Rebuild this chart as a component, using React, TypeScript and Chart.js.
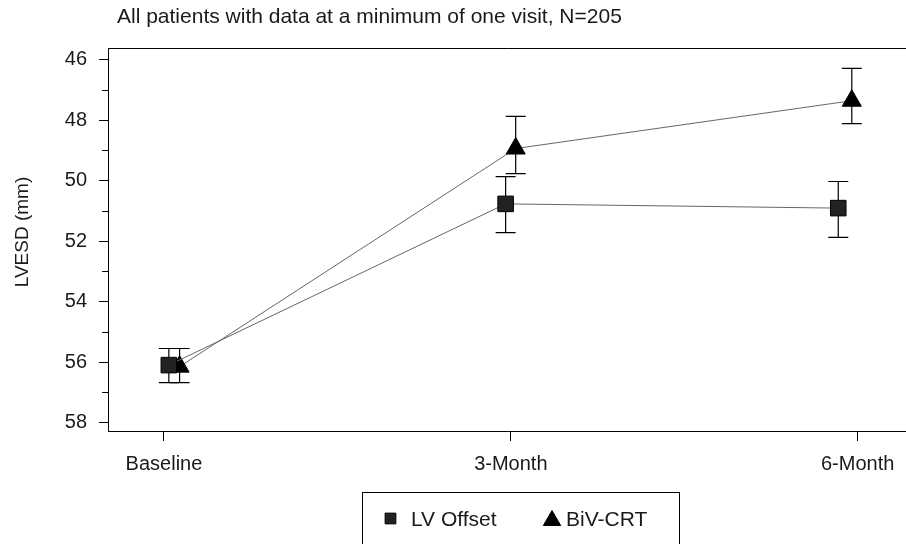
import { useEffect, useRef } from 'react';
import { Chart, registerables } from 'chart.js';
import { drawPoint } from 'chart.js/helpers';

Chart.register(...registerables);

// ---- data ----
const visits = ['Baseline', '3-Month', '6-Month'];
const visitTicks = [0, 1, 2];
const yMajorTicks = [46, 48, 50, 52, 54, 56, 58];
const yMinorTicks = [47, 49, 51, 53, 55, 57];

// small horizontal dodge of each point from its visit (visit index units), as in the source figure
const lvOffsetDodge = [0.014, -0.015, -0.056];
const lvOffsetMean = [56.1, 50.77, 50.91];
const lvOffsetLow = [55.55, 49.87, 50.03];
const lvOffsetHigh = [56.68, 51.72, 51.88];

const bivCrtDodge = [0.045, 0.014, -0.017];
const bivCrtMean = [56.15, 48.94, 47.36];
const bivCrtLow = [55.55, 47.88, 46.29];
const bivCrtHigh = [56.68, 49.77, 48.12];

const titleText = 'All patients with data at a minimum of one visit, N=205';
const yAxisTitle = 'LVESD (mm)';

const FONT = '"Liberation Sans", Arial, Helvetica, sans-serif';
const TEXT = '#1a1a1a';

const decor = {
  id: 'decor',
  beforeDatasetsDraw(chart: any) {
    const ctx = chart.ctx;
    const xs = chart.scales.x;
    const ys = chart.scales.y;
    ctx.save();
    ctx.strokeStyle = '#000';
    ctx.lineWidth = 1.2;
    chart.data.datasets.forEach((ds: any) => {
      ds.data.forEach((p: any, j: number) => {
        const x = xs.getPixelForValue(p.x);
        const y1 = ys.getPixelForValue(ds.errLow[j]);
        const y2 = ys.getPixelForValue(ds.errHigh[j]);
        ctx.beginPath();
        ctx.moveTo(x, y1);
        ctx.lineTo(x, y2);
        ctx.moveTo(x - 10, y1);
        ctx.lineTo(x + 10, y1);
        ctx.moveTo(x - 10, y2);
        ctx.lineTo(x + 10, y2);
        ctx.stroke();
      });
    });
    ctx.restore();
  },
  afterDraw(chart: any) {
    const ctx = chart.ctx;
    const area = chart.chartArea;
    const ys = chart.scales.y;
    ctx.save();
    // top frame line
    ctx.strokeStyle = '#000';
    ctx.lineWidth = 1;
    ctx.beginPath();
    ctx.moveTo(Math.round(area.left) + 0.5, Math.round(area.top) + 0.5);
    ctx.lineTo(area.right, Math.round(area.top) + 0.5);
    ctx.stroke();
    // minor y ticks
    ctx.beginPath();
    yMinorTicks.forEach((v) => {
      const y = Math.round(ys.getPixelForValue(v)) + 0.5;
      ctx.moveTo(area.left - 6, y);
      ctx.lineTo(area.left, y);
    });
    ctx.stroke();
    // title
    ctx.fillStyle = TEXT;
    ctx.font = `21px ${FONT}`;
    ctx.textAlign = 'left';
    ctx.textBaseline = 'alphabetic';
    ctx.fillText(titleText, 117, 23);
    // y axis title
    ctx.save();
    ctx.translate(23, 232);
    ctx.rotate(-Math.PI / 2);
    ctx.textAlign = 'center';
    ctx.textBaseline = 'middle';
    ctx.font = `19px ${FONT}`;
    ctx.fillText(yAxisTitle, 0, 0);
    ctx.restore();
    // legend box
    ctx.strokeStyle = '#000';
    ctx.lineWidth = 1;
    ctx.strokeRect(362.5, 492.5, 317, 120);
    const itemX = [390.5, 552];
    const itemY = [518.5, 520.5];
    const textX = [411, 566];
    const legendRadius = [7.6, 10];
    chart.data.datasets.forEach((ds: any, i: number) => {
      ctx.fillStyle = ds.pointBackgroundColor;
      ctx.strokeStyle = '#000';
      ctx.lineWidth = 1;
      drawPoint(
        ctx,
        {
          pointStyle: ds.pointStyle,
          radius: legendRadius[i],
          rotation: 0,
          borderWidth: 1,
        } as any,
        itemX[i],
        itemY[i]
      );
      ctx.fillStyle = TEXT;
      ctx.font = `21px ${FONT}`;
      ctx.textAlign = 'left';
      ctx.textBaseline = 'middle';
      ctx.fillText(ds.label, textX[i], 520);
    });
    ctx.restore();
  },
};

export default function App() {
  const ref = useRef<HTMLCanvasElement | null>(null);

  useEffect(() => {
    if (!ref.current) return;
    const mk = (dodge: number[], mean: number[]) =>
      visitTicks.map((v, i) => ({ x: v + dodge[i], y: mean[i] }));

    const chart = new Chart(ref.current, {
      type: 'scatter',
      data: {
        datasets: [
          {
            label: 'LV Offset',
            data: mk(lvOffsetDodge, lvOffsetMean),
            showLine: true,
            borderColor: '#666666',
            borderWidth: 1,
            pointStyle: 'rect',
            pointRadius: 11,
            pointHoverRadius: 11,
            pointBackgroundColor: '#222222',
            pointBorderColor: '#000000',
            pointBorderWidth: 1,
            errLow: lvOffsetLow,
            errHigh: lvOffsetHigh,
          } as any,
          {
            label: 'BiV-CRT',
            data: mk(bivCrtDodge, bivCrtMean),
            showLine: true,
            borderColor: '#666666',
            borderWidth: 1,
            pointStyle: 'triangle',
            pointRadius: 11,
            pointHoverRadius: 11,
            pointBackgroundColor: '#000000',
            pointBorderColor: '#000000',
            pointBorderWidth: 1,
            errLow: bivCrtLow,
            errHigh: bivCrtHigh,
          } as any,
        ],
      },
      options: {
        animation: false,
        responsive: false,
        events: [],
        layout: { autoPadding: false, padding: { top: 48, bottom: 53, left: 0, right: 0 } },
        plugins: {
          legend: { display: false },
          title: { display: false },
          tooltip: { enabled: false },
        },
        scales: {
          x: {
            type: 'linear',
            min: -0.1614,
            max: 2.1393,
            afterFit: (s: any) => {
              s.height = 60;
              s.paddingLeft = 0;
              s.paddingRight = 0;
            },
            afterBuildTicks: (s: any) => {
              s.ticks = visitTicks.map((v) => ({ value: v }));
            },
            border: { display: true, color: '#000', width: 1 },
            grid: {
              drawOnChartArea: false,
              drawTicks: true,
              tickLength: 10,
              color: '#000',
              tickColor: '#000',
            },
            ticks: {
              padding: 11,
              color: TEXT,
              font: { size: 20, family: FONT },
              maxRotation: 0,
              autoSkip: false,
              callback: (_v: any, i: number) => visits[i],
            },
          },
          y: {
            type: 'linear',
            reverse: true,
            min: 45.617,
            max: 58.278,
            afterFit: (s: any) => {
              s.width = 108;
              s.paddingTop = 0;
              s.paddingBottom = 0;
            },
            afterBuildTicks: (s: any) => {
              s.ticks = yMajorTicks.map((v) => ({ value: v }));
            },
            border: { display: true, color: '#000', width: 1 },
            grid: {
              drawOnChartArea: false,
              drawTicks: true,
              tickLength: 9,
              color: '#000',
              tickColor: '#000',
            },
            ticks: {
              padding: 12,
              color: TEXT,
              font: { size: 20, family: FONT },
              callback: (v: any) => String(v),
            },
          },
        },
      },
      plugins: [decor],
    } as any);

    return () => chart.destroy();
  }, []);

  return (
    <div style={{ position: 'fixed', left: 0, top: 0, width: 906, height: 544, background: '#fff' }}>
      <canvas ref={ref} width={906} height={544} />
    </div>
  );
}
